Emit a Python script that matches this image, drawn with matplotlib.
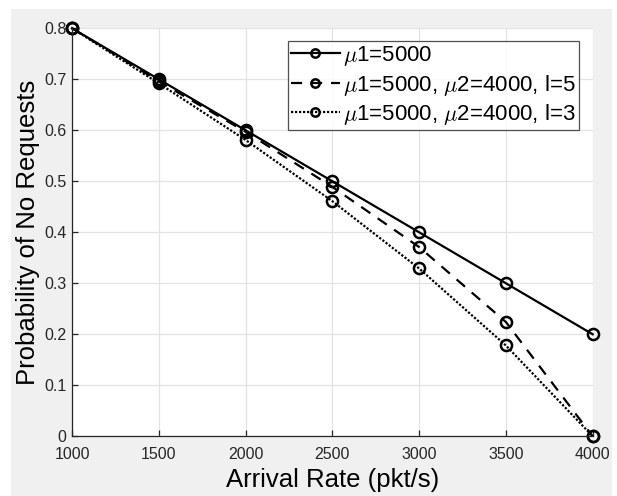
import numpy as np
import matplotlib
matplotlib.use("Agg")
import matplotlib.pyplot as plt
from matplotlib.patches import Rectangle

plt.rcParams['font.family'] = ['Liberation Sans', 'DejaVu Sans']
plt.rcParams['mathtext.fontset'] = 'cm'

# arrival rates and probability of no requests for each configuration
rate = [1000, 1500, 2000, 2500, 3000, 3500, 4000]
p_single = [0.8, 0.7, 0.6, 0.5, 0.4, 0.3, 0.2]
p_l5 = [0.8, 0.696, 0.597, 0.489, 0.371, 0.224, 0.0]
p_l3 = [0.8, 0.692, 0.581, 0.461, 0.329, 0.178, 0.0]

labels = [r'$\mu$1=5000',
          r'$\mu$1=5000, $\mu$2=4000, l=5',
          r'$\mu$1=5000, $\mu$2=4000, l=3']

fig = plt.figure(figsize=(6.17, 4.96), dpi=100)
fig.patch.set_facecolor('white')
# matlab style grey figure background
fig.patches.append(Rectangle((11/617, 0), 601/617, 487/496, transform=fig.transFigure,
                             facecolor='#f0f0f0', edgecolor='none', zorder=-1))

ax = fig.add_axes([0.1167, 0.1204, 0.8439, 0.8226])
ax.set_zorder(1)
ax.set_facecolor('white')

mk = dict(marker='o', markersize=8, markerfacecolor='none', markeredgewidth=1.8,
          color='black', linewidth=1.6, clip_on=False)
ax.plot(rate, p_single, linestyle='-', label=labels[0], **mk)
ax.plot(rate, p_l5, linestyle=(0, (5, 4)), label=labels[1], **mk)
ax.plot(rate, p_l3, linestyle=(0, (1, 0.8)), label=labels[2], **mk)

ax.set_xlim(1000, 4000)
ax.set_ylim(0, 0.8)
ax.set_xticks(np.arange(1000, 4001, 500))
ax.set_yticks(np.arange(0, 0.81, 0.1))
ax.set_yticklabels(['0', '0.1', '0.2', '0.3', '0.4', '0.5', '0.6', '0.7', '0.8'])
ax.grid(True, color='#e3e3e3', linewidth=0.9)
ax.set_axisbelow(True)

for s in ['top', 'right']:
    ax.spines[s].set_visible(False)
for s in ['left', 'bottom']:
    ax.spines[s].set_color('#262626')
    ax.spines[s].set_linewidth(0.9)
ax.tick_params(direction='in', length=4, width=0.9, colors='#262626',
               labelsize=11.5)
ax.tick_params(axis='x', pad=8)
ax.tick_params(axis='y', pad=4)

ax.set_xlabel('Arrival Rate (pkt/s)', fontsize=18.5, color='black', labelpad=4)
ax.set_ylabel('Probability of No Requests', fontsize=18.5, color='black', labelpad=3)

leg = ax.legend(loc='upper right', bbox_to_anchor=(0.974, 0.969), borderaxespad=0,
                fontsize=16, frameon=True, fancybox=False, handlelength=2.2,
                handletextpad=0.15, borderpad=0.15, labelspacing=0.2, markerscale=0.75)
leg.get_frame().set_edgecolor('#262626')
leg.get_frame().set_linewidth(0.9)

fig.savefig('out.png', dpi=100, facecolor=fig.get_facecolor())
